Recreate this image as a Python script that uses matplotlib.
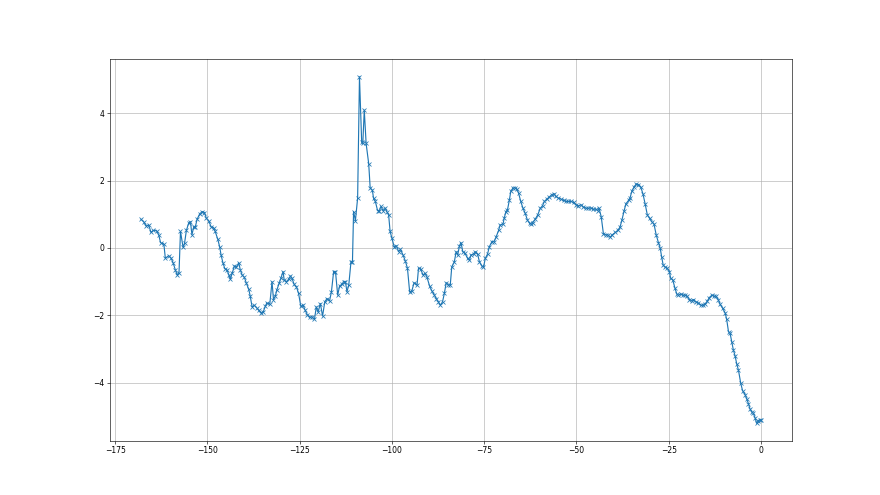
import matplotlib
matplotlib.use("Agg")
import matplotlib.pyplot as plt

# x positions and the matching values
x = [-168.0, -167.3, -166.6, -165.9, -165.3, -164.7, -163.8, -163.2, -162.7, -161.8,
     -161.4, -160.5, -159.8, -159.3, -158.7, -158.2, -157.7, -157.3, -156.6, -156.2,
     -155.7, -155.1, -154.6, -154.2, -153.7, -153.3, -152.8, -152.1, -151.4, -150.8,
     -150.3, -149.7, -149.0, -148.3, -147.9, -147.2, -146.7, -146.3, -145.8, -145.3,
     -144.7, -144.2, -143.8, -143.3, -142.7, -142.2, -141.5, -141.1, -140.6, -140.0,
     -139.5, -138.8, -138.4, -137.9, -137.3, -136.7, -136.1, -135.5, -134.9, -134.3,
     -133.9, -133.1, -132.5, -132.1, -131.6, -131.2, -130.5, -130.1, -129.5, -129.2,
     -128.6, -128.0, -127.5, -127.1, -126.5, -125.9, -125.3, -124.7, -124.1, -123.5,
     -122.9, -122.3, -121.7, -121.0, -120.5, -120.0, -119.4, -118.8, -118.2, -117.6,
     -116.9, -116.4, -115.8, -115.3, -114.7, -114.2, -113.5, -113.1, -112.6, -112.2,
     -111.7, -111.1, -110.7, -110.4, -109.9, -109.3, -108.8, -108.2, -107.9, -107.5,
     -107.0, -106.3, -105.9, -105.3, -105.0, -104.5, -103.9, -103.4, -103.0, -102.4,
     -101.8, -101.4, -100.9, -100.5, -100.0, -99.4, -98.8, -98.2, -97.7, -97.0,
     -96.4, -95.8, -95.2, -94.6, -94.0, -93.2, -92.8, -92.2, -91.6, -91.0,
     -90.5, -89.8, -89.2, -88.5, -88.0, -87.4, -86.9, -86.3, -85.8, -85.3,
     -84.7, -84.2, -83.8, -83.1, -82.6, -82.2, -81.7, -81.3, -80.8, -80.2,
     -79.5, -79.0, -78.6, -77.9, -77.4, -76.8, -76.3, -75.6, -75.2, -74.7,
     -74.1, -73.6, -72.9, -72.3, -71.8, -71.1, -70.7, -69.9, -69.6, -69.1,
     -68.7, -68.2, -67.8, -67.2, -66.6, -66.2, -65.7, -65.1, -64.5, -63.9,
     -63.3, -62.7, -62.2, -61.9, -61.2, -60.5, -59.8, -59.2, -58.7, -58.0,
     -57.4, -56.7, -56.1, -55.6, -54.9, -54.2, -53.5, -52.9, -52.2, -51.4,
     -50.8, -50.2, -49.5, -48.7, -48.1, -47.5, -46.8, -46.0, -45.4, -44.8,
     -44.2, -43.9, -43.3, -42.7, -42.1, -41.5, -40.9, -40.3, -39.5, -38.8,
     -38.2, -37.7, -37.1, -36.6, -35.9, -35.5, -35.0, -34.4, -33.8, -33.2,
     -32.6, -32.0, -31.4, -30.8, -30.2, -29.6, -29.0, -28.4, -27.8, -27.3,
     -26.9, -26.5, -26.0, -25.4, -24.8, -24.5, -23.9, -23.3, -22.8, -22.4,
     -21.7, -21.2, -20.6, -20.0, -19.4, -18.8, -18.3, -17.6, -17.0, -16.3,
     -15.8, -15.2, -14.5, -14.0, -13.3, -12.7, -12.2, -11.6, -11.1, -10.4,
     -9.7, -9.3, -8.8, -8.4, -7.9, -7.5, -7.0, -6.6, -6.1, -5.5,
     -5.0, -4.3, -3.9, -3.4, -3.0, -2.5, -2.1, -1.6, -1.2, -0.7,
     -0.3, 0.0]

y = [0.85, 0.78, 0.65, 0.68, 0.46, 0.52, 0.51, 0.39, 0.16, 0.11,
     -0.31, -0.23, -0.31, -0.44, -0.65, -0.80, -0.73, 0.49, 0.02, 0.14,
     0.52, 0.73, 0.78, 0.39, 0.63, 0.62, 0.85, 1.01, 1.08, 1.05,
     0.88, 0.81, 0.63, 0.59, 0.49, 0.26, 0.04, -0.21, -0.44, -0.61,
     -0.65, -0.80, -0.93, -0.75, -0.54, -0.57, -0.44, -0.65, -0.80, -0.87,
     -1.03, -1.23, -1.43, -1.75, -1.70, -1.77, -1.85, -1.93, -1.90, -1.73,
     -1.63, -1.67, -1.00, -1.53, -1.43, -1.25, -1.03, -0.90, -0.70, -0.95,
     -1.00, -0.93, -0.83, -0.90, -1.08, -1.15, -1.35, -1.73, -1.70, -1.85,
     -1.99, -2.06, -2.04, -2.12, -1.75, -1.90, -1.65, -2.02, -1.60, -1.50,
     -1.57, -1.30, -0.70, -0.70, -1.40, -1.13, -1.07, -1.00, -1.00, -1.30,
     -1.10, -0.41, -0.41, 1.08, 0.81, 1.48, 5.08, 3.13, 3.10, 4.09,
     3.10, 2.50, 1.78, 1.71, 1.48, 1.38, 1.11, 1.11, 1.23, 1.11,
     1.18, 1.08, 0.98, 0.49, 0.29, 0.04, 0.06, -0.11, -0.04, -0.21,
     -0.38, -0.60, -1.31, -1.27, -1.03, -1.10, -0.60, -0.63, -0.80, -0.75,
     -0.87, -1.13, -1.27, -1.40, -1.50, -1.60, -1.70, -1.60, -1.35, -1.03,
     -1.10, -1.10, -0.57, -0.41, -0.11, -0.21, 0.06, 0.16, -0.11, -0.16,
     -0.31, -0.36, -0.21, -0.18, -0.11, -0.18, -0.41, -0.54, -0.57, -0.31,
     -0.18, 0.04, 0.19, 0.19, 0.32, 0.52, 0.68, 0.71, 0.88, 1.08,
     1.13, 1.41, 1.68, 1.78, 1.78, 1.75, 1.63, 1.38, 1.18, 1.03,
     0.83, 0.73, 0.70, 0.75, 0.85, 0.98, 1.18, 1.25, 1.38, 1.45,
     1.51, 1.58, 1.61, 1.53, 1.48, 1.45, 1.41, 1.38, 1.38, 1.38,
     1.35, 1.28, 1.25, 1.28, 1.21, 1.18, 1.18, 1.18, 1.15, 1.15,
     1.11, 1.18, 0.93, 0.42, 0.39, 0.39, 0.32, 0.39, 0.46, 0.52,
     0.62, 0.82, 1.10, 1.31, 1.41, 1.48, 1.68, 1.81, 1.90, 1.88,
     1.81, 1.61, 1.31, 0.98, 0.88, 0.78, 0.71, 0.39, 0.16, -0.01,
     -0.28, -0.51, -0.57, -0.60, -0.70, -0.90, -0.95, -1.20, -1.37, -1.40,
     -1.37, -1.40, -1.40, -1.43, -1.53, -1.57, -1.53, -1.60, -1.63, -1.70,
     -1.70, -1.67, -1.57, -1.47, -1.40, -1.43, -1.43, -1.53, -1.67, -1.79,
     -1.93, -2.12, -2.49, -2.52, -2.79, -3.02, -3.21, -3.43, -3.63, -4.01,
     -4.23, -4.35, -4.47, -4.62, -4.77, -4.87, -4.90, -5.04, -5.20, -5.12,
     -5.10, -5.10]

fig, ax = plt.subplots(figsize=(16, 9), dpi=55)
ax.plot(x, y, marker='x')
ax.grid(True)

plt.savefig('out.png', dpi=55)
